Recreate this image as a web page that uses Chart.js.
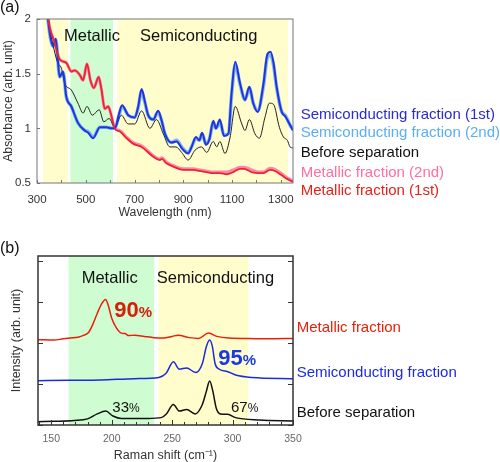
<!DOCTYPE html>
<html>
<head>
<meta charset="utf-8">
<script src="https://cdn.jsdelivr.net/npm/chart.js@4/dist/chart.umd.min.js"></script>
<style>
  body { margin: 0; background: #fff; }
  .box { position: absolute; left: 0; width: 500px; }
  #boxA { top: 0; height: 230px; }
  #boxB { top: 230px; height: 232px; }
</style>
</head>
<body>
<div class="box" id="boxA"><canvas id="absChart" width="500" height="230"></canvas></div>
<div class="box" id="boxB"><canvas id="ramanChart" width="500" height="232"></canvas></div>
<script>
const FONT = "'Liberation Sans', Arial, sans-serif";

// ---- (a) absorbance spectra ----
const semi1Nm = [335, 345, 366, 377, 393, 407, 420, 441, 468, 496, 510, 530, 558, 585, 606, 620, 635, 649, 674, 701, 715, 729, 742, 756, 777, 797, 810, 825, 852, 872, 897, 920, 934, 952, 966, 977, 993, 1007, 1023, 1034, 1050, 1067, 1085, 1098, 1113, 1133, 1153, 1171, 1187, 1205, 1229, 1245, 1258, 1270, 1283, 1304, 1318, 1338, 1350];
const semi1Abs = [2.3, 2.0, 1.75, 1.82, 1.47, 1.52, 1.29, 1.2, 1.05, 0.98, 0.96, 0.91, 1.01, 1.01, 1.0, 1.0, 1.12, 1.21, 1.12, 1.1, 1.2, 1.36, 1.25, 1.12, 1.08, 1.16, 1.08, 0.95, 0.87, 0.88, 0.81, 0.77, 0.83, 0.92, 0.89, 0.96, 0.85, 0.9, 1.07, 1.0, 1.08, 0.93, 0.95, 1.32, 1.61, 1.41, 1.26, 1.38, 1.23, 1.15, 1.41, 1.68, 1.7, 1.6, 1.38, 1.15, 1.11, 1.03, 0.98];
const semi2Abs = [2.3, 2.0, 1.75, 1.81, 1.47, 1.51, 1.29, 1.2, 1.05, 0.98, 0.97, 0.92, 1.01, 1.01, 1.0, 1.0, 1.11, 1.2, 1.12, 1.1, 1.19, 1.34, 1.24, 1.12, 1.08, 1.15, 1.08, 0.95, 0.87, 0.89, 0.82, 0.78, 0.83, 0.91, 0.89, 0.95, 0.86, 0.9, 1.05, 1.0, 1.06, 0.94, 0.95, 1.3, 1.58, 1.4, 1.26, 1.37, 1.23, 1.16, 1.39, 1.65, 1.67, 1.58, 1.37, 1.15, 1.12, 1.03, 0.99];
const beforeNm = [335, 350, 370, 385, 400, 414, 441, 468, 489, 505, 527, 555, 574, 596, 619, 646, 674, 701, 729, 763, 790, 818, 845, 870, 893, 920, 948, 975, 996, 1023, 1037, 1050, 1071, 1092, 1113, 1140, 1153, 1171, 1194, 1212, 1235, 1253, 1270, 1294, 1311, 1327, 1338, 1350];
const beforeAbs = [2.3, 1.95, 1.72, 1.6, 1.55, 1.41, 1.35, 1.23, 1.14, 1.2, 1.12, 1.17, 1.06, 1.09, 1.01, 1.12, 1.04, 1.04, 1.16, 1.0, 1.08, 0.95, 0.83, 0.83, 0.78, 0.71, 0.8, 0.83, 0.78, 0.88, 0.83, 0.88, 0.77, 0.92, 1.2, 1.04, 0.98, 1.08, 0.95, 0.91, 1.1, 1.23, 1.22, 1.01, 0.92, 0.89, 0.83, 0.82];
const metNm = [335, 345, 373, 393, 420, 441, 455, 475, 489, 505, 519, 533, 553, 564, 578, 592, 601, 619, 640, 667, 694, 729, 777, 804, 812, 831, 859, 900, 941, 968, 996, 1023, 1050, 1078, 1105, 1133, 1150, 1180, 1208, 1229, 1256, 1276, 1304, 1324, 1350];
const met1Abs = [2.3, 2.02, 1.78, 1.63, 1.6, 1.52, 1.53, 1.49, 1.44, 1.59, 1.44, 1.37, 1.47, 1.36, 1.18, 1.2, 1.15, 1.0, 0.97, 0.91, 0.86, 0.83, 0.74, 0.71, 0.72, 0.68, 0.65, 0.62, 0.62, 0.61, 0.6, 0.59, 0.59, 0.58, 0.6, 0.63, 0.63, 0.6, 0.59, 0.59, 0.62, 0.61, 0.57, 0.54, 0.51];
const met2Abs = [2.3, 2.02, 1.78, 1.63, 1.6, 1.52, 1.53, 1.49, 1.44, 1.59, 1.44, 1.37, 1.47, 1.36, 1.18, 1.2, 1.15, 1.0, 0.98, 0.92, 0.87, 0.84, 0.75, 0.72, 0.73, 0.69, 0.66, 0.63, 0.63, 0.62, 0.61, 0.6, 0.6, 0.6, 0.62, 0.645, 0.645, 0.62, 0.6, 0.6, 0.635, 0.625, 0.585, 0.55, 0.52];
const absLabels = ["Semiconducting fraction (1st)", "Semiconducting fraction (2nd)", "Before separation", "Metallic fraction (2nd)", "Metallic fraction (1st)"];
const absXTicks = [300, 400, 500, 600, 700, 800, 900, 1000, 1100, 1200, 1300];
const absYTicks = [0.5, 1, 1.5, 2];

// ---- (b) Raman spectra ----
const metRamanCm = [139, 152, 160, 166, 172, 177, 181, 184, 188, 192, 195, 197, 200, 204, 208, 211, 214, 219, 227, 235, 243, 250, 255, 264, 272, 280, 287, 297, 313, 330, 350];
const metRamanI = [2.08, 2.07, 2.1, 2.12, 2.14, 2.19, 2.26, 2.43, 2.72, 2.97, 3.06, 2.93, 2.6, 2.36, 2.24, 2.23, 2.18, 2.19, 2.16, 2.13, 2.12, 2.16, 2.19, 2.13, 2.11, 2.24, 2.16, 2.12, 2.11, 2.1, 2.11];
const semiRamanCm = [139, 164, 191, 219, 239, 245, 251, 256, 262, 269.5, 275, 278.3, 281, 283.3, 285.5, 289, 296, 302.5, 316, 350];
const semiRamanI = [1.08, 1.09, 1.1, 1.13, 1.16, 1.26, 1.54, 1.36, 1.39, 1.28, 1.5, 1.91, 2.07, 1.91, 1.5, 1.36, 1.3, 1.22, 1.16, 1.13];
const befRamanCm = [139, 153, 169, 180, 188, 195, 201, 208, 219, 230, 241, 245, 251, 256, 262, 269, 275, 278.3, 281, 283.7, 286.5, 290, 296, 302.5, 322, 350];
const befRamanI = [0.08, 0.09, 0.11, 0.15, 0.27, 0.34, 0.22, 0.16, 0.16, 0.16, 0.18, 0.26, 0.5, 0.34, 0.38, 0.27, 0.5, 0.82, 1.07, 0.82, 0.41, 0.27, 0.26, 0.18, 0.12, 0.1];
const ramanLabels = ["Metallic fraction", "Semiconducting fraction", "Before separation"];
const ramanXTicks = [150, 200, 250, 300, 350];
const ramanYTicks = [0, 1, 2, 3, 4];

const pts = (xs, ys) => xs.map((x, i) => ({ x: x, y: ys[i] }));

// bands, inside ticks, frame and texts
const decor = {
  id: "decor",
  beforeDatasetsDraw(chart, args, o) {
    const { ctx, chartArea: a, scales: { x } } = chart;
    ctx.save();
    for (const b of o.bands) {
      const x0 = x.getPixelForValue(b.from), x1 = x.getPixelForValue(b.to);
      ctx.fillStyle = b.color;
      ctx.fillRect(x0, a.top, x1 - x0, a.bottom - a.top);
    }
    ctx.restore();
  },
  afterDatasetsDraw(chart, args, o) {
    const { ctx, chartArea: a, scales: { x, y } } = chart;
    ctx.save();
    ctx.strokeStyle = o.frameColor;
    ctx.lineWidth = 1;
    for (const t of o.xTicks) {
      const px = Math.round(x.getPixelForValue(t.v)) + 0.5;
      ctx.beginPath();
      ctx.moveTo(px, a.bottom);
      ctx.lineTo(px, a.bottom - t.len);
      ctx.stroke();
    }
    for (const v of o.yTicks) {
      const py = Math.round(y.getPixelForValue(v)) + 0.5;
      ctx.beginPath();
      ctx.moveTo(a.left, py);
      ctx.lineTo(a.left + o.yTickLen, py);
      if (o.rightTicks) {
        ctx.moveTo(a.right, py);
        ctx.lineTo(a.right - o.yTickLen, py);
      }
      ctx.stroke();
    }
    ctx.lineWidth = o.frameWidth;
    ctx.strokeRect(a.left, a.top, a.right - a.left, a.bottom - a.top);
    ctx.textBaseline = "alphabetic";
    ctx.textAlign = "left";
    for (const t of o.texts) {
      let px = t.x;
      for (const p of t.parts) {
        ctx.font = p.font;
        ctx.fillStyle = p.color;
        ctx.fillText(p.text, px, t.y);
        px += ctx.measureText(p.text).width;
      }
    }
    ctx.restore();
  }
};

const txt = (x, y, text, size, color, weight) => ({
  x: x, y: y, parts: [{ text: text, font: (weight || "normal") + " " + size + "px " + FONT, color: color }]
});
const pct = (x, y, num, big, small, color, weight) => ({
  x: x, y: y, parts: [
    { text: num, font: weight + " " + big + "px " + FONT, color: color },
    { text: "%", font: weight + " " + small + "px " + FONT, color: color }
  ]
});

const absColors = ["#2233dd", "#7db8f5", "#222222", "#ff88aa", "#ee2233"];
const legendA = ["#2a2ad0", "#5aaef5", "#111111", "#ff6f9c", "#e8201a"];

new Chart(document.getElementById("absChart"), {
  type: "line",
  plugins: [decor],
  data: {
    datasets: [
      { label: absLabels[4], data: pts(metNm, met1Abs), borderColor: absColors[4], borderWidth: 1.8, order: 0 },
      { label: absLabels[0], data: pts(semi1Nm, semi1Abs), borderColor: absColors[0], borderWidth: 2, order: 1 },
      { label: absLabels[2], data: pts(beforeNm, beforeAbs), borderColor: absColors[2], borderWidth: 1, order: 2 },
      { label: absLabels[1], data: pts(semi1Nm, semi2Abs), borderColor: absColors[1], borderWidth: 3.5, order: 3 },
      { label: absLabels[3], data: pts(metNm, met2Abs), borderColor: absColors[3], borderWidth: 3, order: 4 }
    ]
  },
  options: {
    responsive: false,
    animation: false,
    elements: { point: { radius: 0 }, line: { cubicInterpolationMode: "monotone" } },
    layout: { padding: { left: 0, top: 19, right: 207, bottom: 0 } },
    scales: {
      x: {
        type: "linear", min: 300, max: 1350,
        afterBuildTicks: (s) => { s.ticks = absXTicks.map(v => ({ value: v })); },
        afterFit: (s) => { s.height = 47; },
        grid: { display: false, drawTicks: false },
        border: { display: false },
        ticks: {
          padding: 10, color: "#333", font: { family: FONT, size: 11.5 },
          maxRotation: 0, autoSkip: false,
          callback: (v) => ((v - 300) % 200 === 0 ? String(v) : "")
        },
        title: { display: true, text: "Wavelength (nm)", color: "#333", font: { family: FONT, size: 12.3 }, padding: { top: 0, bottom: 10 } }
      },
      y: {
        min: 0.5, max: 2,
        afterBuildTicks: (s) => { s.ticks = absYTicks.map(v => ({ value: v })); },
        afterFit: (s) => { s.width = 37; },
        grid: { display: false, drawTicks: false },
        border: { display: false },
        ticks: { padding: 6, color: "#333", font: { family: FONT, size: 11.5 }, callback: (v) => String(v) },
        title: { display: true, text: "Absorbance (arb. unit)", color: "#333", font: { family: FONT, size: 12.3 }, padding: { top: 1, bottom: 0 } }
      }
    },
    plugins: {
      legend: { display: false },
      tooltip: { enabled: false },
      decor: {
        bands: [
          { from: 325, to: 427, color: "#fffdcc" },
          { from: 437, to: 612, color: "#cffcd0" },
          { from: 629, to: 1330, color: "#fffdcc" }
        ],
        xTicks: absXTicks.map(v => ({ v: v, len: 3 })),
        yTicks: absYTicks,
        yTickLen: 3,
        rightTicks: false,
        frameColor: "#777",
        frameWidth: 1,
        texts: [
          txt(0, 12, "(a)", 16, "#111"),
          txt(64, 41, "Metallic", 16.5, "#111"),
          txt(140, 41, "Semiconducting", 16.5, "#111"),
          txt(300.7, 119, absLabels[0], 15, legendA[0]),
          txt(300.7, 137, absLabels[1], 15, legendA[1]),
          txt(300.7, 157, absLabels[2], 15, legendA[2]),
          txt(300.7, 177, absLabels[3], 15, legendA[3]),
          txt(300.7, 195, absLabels[4], 15, legendA[4])
        ]
      }
    }
  }
});

const ramanColors = ["#e8200a", "#1b2bdf", "#111111"];

new Chart(document.getElementById("ramanChart"), {
  type: "line",
  plugins: [decor],
  data: {
    datasets: [
      { label: ramanLabels[0], data: pts(metRamanCm, metRamanI), borderColor: ramanColors[0], borderWidth: 1.5 },
      { label: ramanLabels[1], data: pts(semiRamanCm, semiRamanI), borderColor: ramanColors[1], borderWidth: 1.5 },
      { label: ramanLabels[2], data: pts(befRamanCm, befRamanI), borderColor: ramanColors[2], borderWidth: 1.5 }
    ]
  },
  options: {
    responsive: false,
    animation: false,
    elements: { point: { radius: 0 }, line: { cubicInterpolationMode: "monotone" } },
    layout: { padding: { left: 0, top: 26, right: 207, bottom: 0 } },
    scales: {
      x: {
        type: "linear", min: 139, max: 350,
        afterBuildTicks: (s) => { s.ticks = ramanXTicks.map(v => ({ value: v })); },
        afterFit: (s) => { s.height = 37; },
        grid: { display: false, drawTicks: false },
        border: { display: false },
        ticks: { padding: 8, color: "#666", font: { family: FONT, size: 10.5 }, maxRotation: 0, autoSkip: false },
        title: { display: true, text: "Raman shift (cm\u207B\u00B9)", color: "#333", font: { family: FONT, size: 12.5, lineHeight: 1 }, padding: { top: 0, bottom: 0 } }
      },
      y: {
        min: 0, max: 4.12,
        afterBuildTicks: (s) => { s.ticks = ramanYTicks.map(v => ({ value: v })); },
        afterFit: (s) => { s.width = 38; },
        grid: { display: false, drawTicks: false },
        border: { display: false },
        ticks: { display: false },
        title: { display: true, text: "Intensity (arb. unit)", color: "#333", font: { family: FONT, size: 12.5 }, padding: { top: 9, bottom: 0 } }
      }
    },
    plugins: {
      legend: { display: false },
      tooltip: { enabled: false },
      decor: {
        bands: [
          { from: 164.3, to: 235.2, color: "#cffcd0" },
          { from: 238.6, to: 313, color: "#fffdcc" }
        ],
        xTicks: [140, 150, 160, 170, 180, 190, 200, 210, 220, 230, 240, 250, 260, 270, 280, 290, 300, 310, 320, 330, 340, 350]
          .map(v => ({ v: v, len: v % 50 === 0 ? 5 : 3 })),
        yTicks: ramanYTicks,
        yTickLen: 5,
        rightTicks: true,
        frameColor: "#333",
        frameWidth: 1.5,
        texts: [
          txt(0, 23, "(b)", 16, "#111"),
          txt(81.7, 53, "Metallic", 16.5, "#111"),
          txt(156.7, 53, "Semiconducting", 16.5, "#111"),
          pct(114.3, 86.7, "90", 22, 15, "#d81e0a", "bold"),
          pct(218.3, 135, "95", 22, 15, "#1a3ae0", "bold"),
          pct(112.3, 181.7, "33", 15, 12, "#111", "normal"),
          pct(231, 181.7, "67", 15, 12, "#111", "normal"),
          txt(296.7, 101.7, ramanLabels[0], 15, ramanColors[0]),
          txt(296.7, 146.7, ramanLabels[1], 15, ramanColors[1]),
          txt(296.7, 186.7, ramanLabels[2], 15, ramanColors[2])
        ]
      }
    }
  }
});
</script>
</body>
</html>
